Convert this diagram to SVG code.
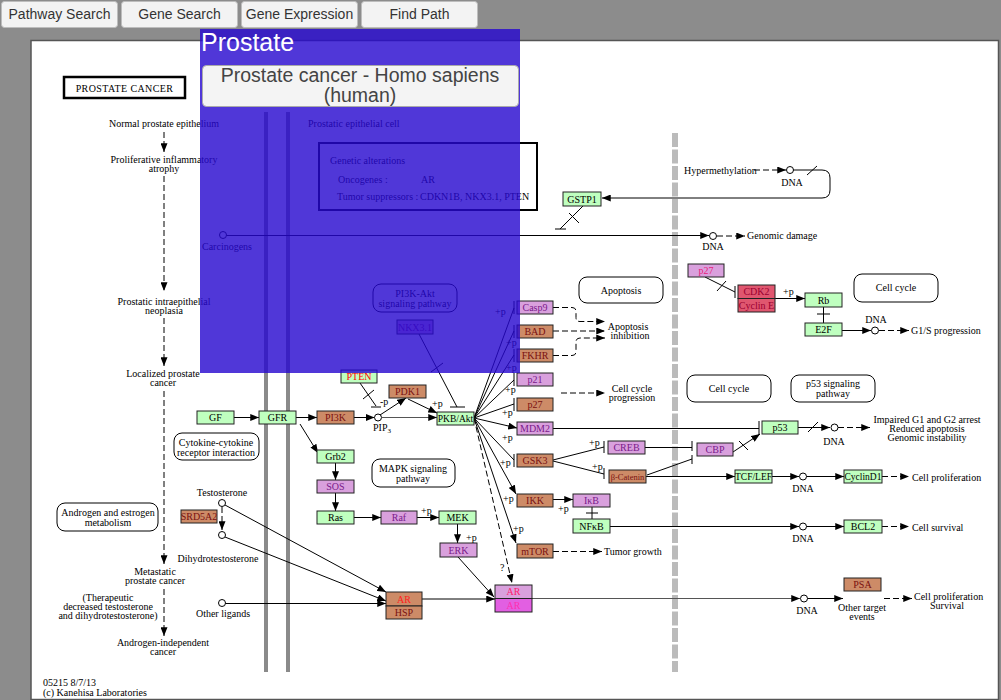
<svg xmlns="http://www.w3.org/2000/svg" width="1001" height="700" viewBox="0 0 1001 700">
<defs>
<marker id="a" viewBox="0 0 10 8" refX="10" refY="4" markerWidth="9" markerHeight="7" markerUnits="userSpaceOnUse" orient="auto"><path d="M0,0L10,4L0,8z" fill="#000"/></marker>
</defs>
<style>
.lbl{font-family:"Liberation Serif",serif;font-size:10px;fill:#000}
.m{text-anchor:middle}
.gn rect{stroke:#222;stroke-width:1}
.gn text{font-family:"Liberation Serif",serif;font-size:10px;text-anchor:middle}
.G rect{fill:#bfffbf}.G text{fill:#000}
.B rect{fill:#cd8b67}.B text{fill:#7a1010}
.P rect{fill:#d9a0dd}.P text{fill:#7a1a8a}
.ln line,.ln path,.ln polyline{stroke:#000;fill:none;stroke-width:1}
.ln .d{stroke-dasharray:6,3}
.ln .gr{stroke:#555}
.rb rect{fill:#fff;stroke:#000;stroke-width:1}
.btn rect{fill:#f3f3f3;stroke:#bdbdbd}
.btn text{font-family:"Liberation Sans",Arial,sans-serif;font-size:14px;fill:#333;text-anchor:middle}
</style>
<rect width="1001" height="700" fill="#8c8c8c"/>
<g id="buttons" class="btn">
<rect x="1.5" y="1.5" width="116" height="26" rx="3"/><text x="59.5" y="19">Pathway Search</text>
<rect x="121.5" y="1.5" width="116" height="26" rx="3"/><text x="179.5" y="19">Gene Search</text>
<rect x="241.5" y="1.5" width="116" height="26" rx="3"/><text x="299.5" y="19">Gene Expression</text>
<rect x="361.5" y="1.5" width="116" height="26" rx="3"/><text x="419.5" y="19">Find Path</text>
</g>
<rect x="31" y="40.5" width="967.5" height="659" fill="#fff" stroke="#555" stroke-width="1.5"/>
<g id="membranes">
<line x1="266" y1="112" x2="266" y2="672" stroke="#8a8a8a" stroke-width="4"/>
<line x1="288" y1="112" x2="288" y2="672" stroke="#8a8a8a" stroke-width="4"/>
<line x1="675" y1="133" x2="675" y2="672" stroke="#bbb" stroke-width="6" stroke-dasharray="14,2.5"/>
</g>
<g id="title-box"><rect x="64" y="77" width="121" height="21" fill="#fff" stroke="#000" stroke-width="2.5"/><text class="lbl m" x="124.5" y="92" font-size="12" letter-spacing="0.4">PROSTATE  CANCER</text></g>
<g id="stages" class="lbl m">
<text x="164" y="127">Normal prostate epithelium</text>
<text x="164" y="163">Proliferative inflammatory</text><text x="164" y="172">atrophy</text>
<text x="164" y="305">Prostatic intraepithelial</text><text x="164" y="314">neoplasia</text>
<text x="163" y="377">Localized prostate</text><text x="163" y="386">cancer</text>
<text x="155" y="575">Metastatic</text><text x="155" y="584">prostate cancer</text>
<text x="108" y="601">(Therapeutic</text><text x="108" y="610">decreased testosterone</text><text x="108" y="619">and dihydrotestosterone)</text>
<text x="163" y="646">Androgen-independent</text><text x="163" y="655">cancer</text>
</g>
<g id="footer" class="lbl"><text x="43" y="686">05215 8/7/13</text><text x="43" y="696">(c) Kanehisa Laboratories</text></g>
<g id="pathway-maps" class="rb">
<g id="map-androgen"><rect x="57" y="503" width="101" height="28" rx="8"/><text class="lbl m" x="108" y="516">Androgen and estrogen</text><text class="lbl m" x="108" y="526">metabolism</text></g>
<g id="map-cytokine"><rect x="174" y="433" width="85" height="27" rx="8"/><text class="lbl m" x="216" y="446">Cytokine-cytokine</text><text class="lbl m" x="216" y="456">receptor interaction</text></g>
<g id="map-pi3k"><rect x="373" y="284" width="84" height="28" rx="8"/><text class="lbl m" x="415" y="297">PI3K-Akt</text><text class="lbl m" x="415" y="307">signaling pathway</text></g>
<g id="map-mapk"><rect x="372" y="459" width="83" height="28" rx="8"/><text class="lbl m" x="413" y="472">MAPK signaling</text><text class="lbl m" x="413" y="482">pathway</text></g>
<g id="map-apoptosis"><rect x="579" y="277" width="84" height="26" rx="8"/><text class="lbl m" x="621" y="294">Apoptosis</text></g>
<g id="map-cellcycle1"><rect x="854" y="274" width="84" height="28" rx="8"/><text class="lbl m" x="896" y="291">Cell cycle</text></g>
<g id="map-cellcycle2"><rect x="687" y="375" width="84" height="27" rx="8"/><text class="lbl m" x="729" y="392">Cell cycle</text></g>
<g id="map-p53"><rect x="791" y="375" width="84" height="27" rx="8"/><text class="lbl m" x="833" y="387">p53 signaling</text><text class="lbl m" x="833" y="397">pathway</text></g>
</g>
<g id="genetic-alterations"><rect x="319" y="143" width="218" height="67" fill="none" stroke="#000" stroke-width="2"/>
<g class="lbl"><text x="330" y="164">Genetic alterations</text><text x="338" y="183">Oncogenes :</text><text x="421" y="183">AR</text><text x="337" y="200">Tumor suppressors :</text><text x="420" y="200">CDKN1B, NKX3.1, PTEN</text></g></g>
<g id="labels" class="lbl">
<text x="308" y="127">Prostatic epithelial cell</text>
<text class="m" x="227" y="250">Carcinogens</text>
<text class="m" x="222" y="496">Testosterone</text>
<text class="m" x="218" y="562">Dihydrotestosterone</text>
<text class="m" x="223" y="617">Other ligands</text>
<text class="m" x="382" y="431">PIP<tspan font-size="7" dy="2">3</tspan></text>
<text x="684" y="174">Hypermethylation</text>
<text class="m" x="792" y="186">DNA</text>
<text class="m" x="713" y="250">DNA</text>
<text x="747" y="239">Genomic damage</text>
<text class="m" x="628" y="330">Apoptosis</text><text class="m" x="630" y="339">inhibition</text>
<text class="m" x="632" y="392">Cell cycle</text><text class="m" x="632" y="401">progression</text>
<text class="m" x="876" y="323">DNA</text>
<text x="911" y="334">G1/S progression</text>
<text class="m" x="834" y="445">DNA</text>
<text class="m" x="927" y="423">Impaired G1 and G2 arrest</text><text class="m" x="927" y="432">Reduced apoptosis</text><text class="m" x="927" y="441">Genomic instability</text>
<text class="m" x="803" y="492">DNA</text>
<text x="912" y="481">Cell proliferation</text>
<text class="m" x="803" y="542">DNA</text>
<text x="912" y="531">Cell survival</text>
<text x="604" y="555">Tumor growth</text>
<text class="m" x="807" y="614">DNA</text>
<text class="m" x="862" y="611">Other target</text><text class="m" x="862" y="620">events</text>
<text x="914" y="600">Cell proliferation</text><text class="m" x="947" y="609">Survival</text>
<text x="495" y="315">+p</text><text x="506" y="346">+p</text><text x="506" y="371">+p</text><text x="505" y="393">+p</text>
<text x="502" y="416">+p</text><text x="502" y="441">+p</text><text x="500" y="466">+p</text><text x="503" y="502">+p</text><text x="513" y="532">+p</text>
<text x="432" y="407">+p</text><text x="380" y="405">-p</text>
<text x="421" y="514">+p</text><text x="466" y="541">+p</text>
<text x="783" y="295">+p</text>
<text x="589" y="446">+p</text><text x="592" y="470">+p</text>
<text x="558" y="512">+p</text>
<text x="500" y="571">?</text>
</g>
<g id="connectors" class="ln">
<line class="d" x1="164" y1="132" x2="164" y2="152" marker-end="url(#a)"/>
<line class="d" x1="164" y1="176" x2="164" y2="291" marker-end="url(#a)"/>
<line class="d" x1="164" y1="318" x2="164" y2="366" marker-end="url(#a)"/>
<line class="d" x1="164" y1="391" x2="164" y2="564" marker-end="url(#a)"/>
<line class="d" x1="164" y1="589" x2="164" y2="636" marker-end="url(#a)"/>
<circle cx="223" cy="235" r="3.5" fill="#fff" stroke="#000"/>
<line x1="226.5" y1="235.5" x2="709" y2="235.5" marker-end="url(#a)"/>
<circle cx="713" cy="236" r="3.5" fill="#fff" stroke="#000"/>
<line class="d" x1="717" y1="236" x2="745" y2="236" marker-end="url(#a)"/>
<line class="d" x1="754" y1="170" x2="786" y2="170" marker-end="url(#a)"/>
<circle cx="790" cy="170" r="3.5" fill="#fff" stroke="#000"/>
<path d="M793.5,170H822Q830,170 830,178V190Q830,198 822,198H602" marker-end="url(#a)"/>
<line x1="807" y1="175" x2="817" y2="166"/>
<line x1="583" y1="206" x2="560" y2="229"/><line x1="555" y1="229" x2="566" y2="229"/>
<line x1="569" y1="213" x2="579" y2="223"/>
<circle cx="222" cy="503" r="3.5" fill="#fff" stroke="#000"/>
<line class="d" x1="222" y1="507" x2="222" y2="530" marker-end="url(#a)"/>
<circle cx="222" cy="535" r="3.5" fill="#fff" stroke="#000"/>
<circle cx="222" cy="603" r="3.5" fill="#fff" stroke="#000"/>
<line x1="225" y1="505" x2="386" y2="592" marker-end="url(#a)"/>
<line x1="225" y1="537" x2="386" y2="601" marker-end="url(#a)"/>
<line x1="225.5" y1="603.5" x2="386" y2="603.5" marker-end="url(#a)"/>
<line x1="234" y1="417.5" x2="259" y2="417.5" marker-end="url(#a)"/>
<line x1="296" y1="417.5" x2="317" y2="417.5" marker-end="url(#a)"/>
<line x1="300" y1="424" x2="318" y2="453" marker-end="url(#a)"/>
<line x1="335.5" y1="463" x2="335.5" y2="480" marker-end="url(#a)"/>
<line x1="335.5" y1="493" x2="335.5" y2="511" marker-end="url(#a)"/>
<line x1="354" y1="517.5" x2="381" y2="517.5" marker-end="url(#a)"/>
<line x1="417" y1="517.5" x2="439" y2="517.5" marker-end="url(#a)"/>
<line x1="457.5" y1="524" x2="457.5" y2="543" marker-end="url(#a)"/>
<line x1="354" y1="417.5" x2="374.5" y2="417.5" marker-end="url(#a)"/>
<circle cx="378" cy="417.5" r="3.5" fill="#fff" stroke="#000"/>
<line class="gr" x1="381.5" y1="417.5" x2="437" y2="417.5" marker-end="url(#a)"/>
<line x1="380" y1="415" x2="406" y2="398" marker-end="url(#a)"/>
<line x1="408" y1="399" x2="437" y2="413" marker-end="url(#a)"/>
<line x1="360" y1="383" x2="376" y2="406"/><line x1="371" y1="407" x2="381" y2="407"/>
<line x1="363" y1="399" x2="374" y2="390"/>
<line x1="419" y1="334" x2="457" y2="407"/><line x1="450" y1="407" x2="465" y2="407"/>
<line x1="431" y1="372" x2="443" y2="363"/>
<g>
<line x1="474" y1="418" x2="514" y2="308"/><line x1="514" y1="301" x2="514" y2="314"/>
<line x1="474" y1="418" x2="514" y2="331"/><line x1="514" y1="325" x2="514" y2="338"/>
<line x1="474" y1="418" x2="514" y2="355"/><line x1="514" y1="349" x2="514" y2="362"/>
<line x1="474" y1="418" x2="514" y2="380"/><line x1="514" y1="373" x2="514" y2="386"/>
<line x1="474" y1="418" x2="514" y2="404"/><line x1="514" y1="398" x2="514" y2="411"/>
<line x1="474" y1="418" x2="517" y2="428" marker-end="url(#a)"/>
<line x1="474" y1="418" x2="514" y2="460"/><line x1="514" y1="454" x2="514" y2="467"/>
<line x1="474" y1="418" x2="516" y2="494" marker-end="url(#a)"/>
<line x1="474" y1="418" x2="516" y2="543" marker-end="url(#a)"/>
<line class="d" x1="474" y1="418" x2="512" y2="583" marker-end="url(#a)"/>
</g>
<line x1="458" y1="557" x2="494" y2="597" marker-end="url(#a)"/>
<line x1="422" y1="599" x2="495" y2="599" marker-end="url(#a)"/>
<line class="gr" x1="532" y1="598.5" x2="800" y2="598.5" marker-end="url(#a)"/>
<circle cx="804" cy="598.5" r="3.5" fill="#fff" stroke="#000"/>
<line x1="807.5" y1="598.5" x2="843" y2="598.5" marker-end="url(#a)"/>
<line class="d" x1="884" y1="598.5" x2="912" y2="598.5" marker-end="url(#a)"/>
<path class="d" d="M553,307.5H572Q576,307.5 576,311.5V317.5Q576,321.5 580,321.5H605" marker-end="url(#a)"/>
<line class="d" x1="553" y1="331" x2="605" y2="331" marker-end="url(#a)"/>
<path class="d" d="M553,355.5H572Q576,355.5 576,351.5V342Q576,338 580,338H605" marker-end="url(#a)"/>
<line class="d" x1="561" y1="393" x2="605" y2="393" marker-end="url(#a)"/>
<line x1="705" y1="277" x2="735" y2="292"/><line x1="735" y1="286" x2="735" y2="298"/>
<line x1="717" y1="291" x2="726" y2="281"/>
<line x1="775" y1="298.5" x2="805" y2="298.5" marker-end="url(#a)"/>
<line x1="823.5" y1="307" x2="823.5" y2="323"/><line x1="817" y1="314" x2="830" y2="314"/>
<line x1="842" y1="330.5" x2="871" y2="330.5" marker-end="url(#a)"/>
<circle cx="875" cy="330.5" r="3.5" fill="#fff" stroke="#000"/>
<line class="d" x1="879" y1="330.5" x2="909" y2="330.5" marker-end="url(#a)"/>
<line x1="553" y1="428.5" x2="759" y2="428.5"/><line x1="759" y1="421" x2="759" y2="435"/>
<line x1="798" y1="427.5" x2="830" y2="427.5" marker-end="url(#a)"/>
<line x1="808" y1="432" x2="818" y2="422"/>
<circle cx="834.5" cy="427.5" r="3.5" fill="#fff" stroke="#000"/>
<line class="d" x1="838" y1="427.5" x2="870" y2="427.5" marker-end="url(#a)"/>
<line x1="553" y1="460" x2="604" y2="447"/><line x1="604" y1="441" x2="604" y2="453"/>
<line x1="553" y1="461" x2="604" y2="474"/><line x1="604" y1="468" x2="604" y2="479"/>
<line x1="645" y1="447.5" x2="692" y2="447.5"/><line x1="692" y1="441" x2="692" y2="451"/>
<line x1="647" y1="475" x2="692" y2="459"/><line x1="692" y1="455" x2="692" y2="464"/>
<line x1="733" y1="452" x2="760" y2="434" marker-end="url(#a)"/>
<line x1="739" y1="441" x2="748" y2="450"/>
<line x1="646" y1="476.5" x2="735" y2="476.5" marker-end="url(#a)"/>
<line x1="772" y1="476.5" x2="799" y2="476.5" marker-end="url(#a)"/>
<circle cx="803" cy="476.5" r="3.5" fill="#fff" stroke="#000"/>
<line x1="806.5" y1="476.5" x2="844" y2="476.5" marker-end="url(#a)"/>
<line class="d" x1="882" y1="476.5" x2="909" y2="476.5" marker-end="url(#a)"/>
<line x1="553" y1="499.5" x2="573" y2="499.5" marker-end="url(#a)"/>
<line x1="592" y1="507" x2="592" y2="519"/><line x1="586" y1="513" x2="598" y2="513"/>
<line x1="610" y1="526.5" x2="799" y2="526.5" marker-end="url(#a)"/>
<circle cx="803" cy="526.5" r="3.5" fill="#fff" stroke="#000"/>
<line x1="806.5" y1="526.5" x2="844" y2="526.5" marker-end="url(#a)"/>
<line class="d" x1="882" y1="526.5" x2="909" y2="526.5" marker-end="url(#a)"/>
<line class="d" x1="553" y1="551.5" x2="602" y2="551.5" marker-end="url(#a)"/>
</g>
<g id="nodes" class="gn">
<g id="GSTP1" class="G" transform="translate(563,192)"><rect width="38" height="14"/><text x="19" y="10.5">GSTP1</text></g>
<g id="NKX3.1" class="P" transform="translate(397,320)"><rect width="36" height="14"/><text x="18" y="10.5">NKX3.1</text></g>
<g id="PTEN" class="G" transform="translate(341,370)"><rect width="36" height="13"/><text x="18" y="10" style="fill:#ff0000">PTEN</text></g>
<g id="PDK1" class="B" transform="translate(389,385)"><rect width="37" height="13"/><text x="18.5" y="10">PDK1</text></g>
<g id="GF" class="G" transform="translate(197,411)"><rect width="37" height="13"/><text x="18.5" y="10">GF</text></g>
<g id="GFR" class="G" transform="translate(259,411)"><rect width="37" height="13"/><text x="18.5" y="10">GFR</text></g>
<g id="PI3K" class="B" transform="translate(317,411)"><rect width="37" height="13"/><text x="18.5" y="10">PI3K</text></g>
<g id="PKB-Akt" class="G" transform="translate(437,412)"><rect width="37" height="13"/><text x="18.5" y="10" style="font-size:9.5px">PKB/Akt</text></g>
<g id="Grb2" class="G" transform="translate(317,450)"><rect width="37" height="13"/><text x="18.5" y="10">Grb2</text></g>
<g id="SOS" class="P" transform="translate(317,480)"><rect width="37" height="13"/><text x="18.5" y="10">SOS</text></g>
<g id="Ras" class="G" transform="translate(317,511)"><rect width="37" height="13"/><text x="18.5" y="10">Ras</text></g>
<g id="Raf" class="P" transform="translate(381,511)"><rect width="36" height="13"/><text x="18" y="10">Raf</text></g>
<g id="MEK" class="G" transform="translate(439,511)"><rect width="37" height="13"/><text x="18.5" y="10">MEK</text></g>
<g id="ERK" class="P" transform="translate(440,543)"><rect width="37" height="14"/><text x="18.5" y="10.5">ERK</text></g>
<g id="SRD5A2" class="B" transform="translate(181,510)"><rect width="36" height="13"/><text x="18" y="10">SRD5A2</text></g>
<g id="AR-HSP" class="B" transform="translate(386,592)"><rect width="36" height="14"/><text x="18" y="10.5" style="fill:#ff2020">AR</text><rect y="14" width="36" height="13"/><text x="18" y="24">HSP</text></g>
<g id="AR-AR" transform="translate(495,585)"><rect width="37" height="13.5" fill="#d9a0dd"/><text x="18.5" y="10" fill="#ff2070">AR</text><rect y="13.5" width="37" height="13.5" fill="#e25fe2"/><text x="18.5" y="23.5" fill="#ff30b0">AR</text></g>
<g id="Casp9" class="P" transform="translate(517,301)"><rect width="36" height="13"/><text x="18" y="10">Casp9</text></g>
<g id="BAD" class="B" transform="translate(517,325)"><rect width="36" height="13"/><text x="18" y="10">BAD</text></g>
<g id="FKHR" class="B" transform="translate(517,349)"><rect width="36" height="13"/><text x="18" y="10">FKHR</text></g>
<g id="p21" class="P" transform="translate(517,373)"><rect width="36" height="13"/><text x="18" y="10">p21</text></g>
<g id="p27" class="B" transform="translate(517,398)"><rect width="36" height="13"/><text x="18" y="10">p27</text></g>
<g id="MDM2" class="P" transform="translate(517,422)"><rect width="36" height="13"/><text x="18" y="10">MDM2</text></g>
<g id="GSK3" class="B" transform="translate(517,454)"><rect width="36" height="13"/><text x="18" y="10">GSK3</text></g>
<g id="IKK" class="B" transform="translate(517,494)"><rect width="36" height="13"/><text x="18" y="10">IKK</text></g>
<g id="mTOR" class="B" transform="translate(517,544)"><rect width="36" height="14"/><text x="18" y="10.5">mTOR</text></g>
<g id="p27-2" class="P" transform="translate(688,264)"><rect width="36" height="13"/><text x="18" y="10" style="fill:#e8207a">p27</text></g>
<g id="CDK2-CyclinE" transform="translate(738,285)"><rect width="37" height="13.5" fill="#e0566f"/><text x="18.5" y="10" fill="#9a0030">CDK2</text><rect y="13.5" width="37" height="13.5" fill="#e0566f"/><text x="18.5" y="23.5" fill="#9a0030">Cyclin E</text></g>
<g id="Rb" class="G" transform="translate(805,293)"><rect width="37" height="14"/><text x="18.5" y="10.5">Rb</text></g>
<g id="E2F" class="G" transform="translate(805,323)"><rect width="37" height="13"/><text x="18.5" y="10">E2F</text></g>
<g id="p53" class="G" transform="translate(762,421)"><rect width="36" height="13"/><text x="18" y="10">p53</text></g>
<g id="CREB" class="P" transform="translate(608,441)"><rect width="37" height="13"/><text x="18.5" y="10">CREB</text></g>
<g id="CBP" class="P" transform="translate(697,443)"><rect width="36" height="13"/><text x="18" y="10">CBP</text></g>
<g id="b-Catenin" class="B" transform="translate(609,470)"><rect width="37" height="13"/><text x="18.5" y="9.5" style="font-size:8.5px">β-Catenin</text></g>
<g id="TCF-LEF" class="G" transform="translate(735,470)"><rect width="37" height="13"/><text x="18.5" y="10" style="font-size:9.5px">TCF/LEF</text></g>
<g id="CyclinD1" class="G" transform="translate(844,470)"><rect width="38" height="13"/><text x="19" y="10" style="font-size:9.5px">CyclinD1</text></g>
<g id="IkB" class="P" transform="translate(573,494)"><rect width="37" height="13"/><text x="18.5" y="10">IκB</text></g>
<g id="NFkB" class="G" transform="translate(573,519)"><rect width="37" height="14"/><text x="18.5" y="10.5">NFκB</text></g>
<g id="BCL2" class="G" transform="translate(844,520)"><rect width="38" height="13"/><text x="19" y="10">BCL2</text></g>
<g id="PSA" class="B" transform="translate(844,578)"><rect width="37" height="13"/><text x="18.5" y="10">PSA</text></g>
</g>
<g id="overlay">
<rect x="200" y="29" width="320" height="344" fill="rgb(39,9,207)" fill-opacity="0.81"/>
<text x="201" y="51" font-family="'Liberation Sans',Arial,sans-serif" font-size="25" fill="#fff">Prostate</text>
<rect x="202.5" y="65.5" width="316" height="41" rx="4" fill="#f4f4f4" stroke="#aaa"/>
<text x="360" y="82" font-family="'Liberation Sans',Arial,sans-serif" font-size="19.5" fill="#444" text-anchor="middle">Prostate cancer - Homo sapiens</text>
<text x="360" y="102" font-family="'Liberation Sans',Arial,sans-serif" font-size="19.5" fill="#444" text-anchor="middle">(human)</text>
</g>
</svg>
